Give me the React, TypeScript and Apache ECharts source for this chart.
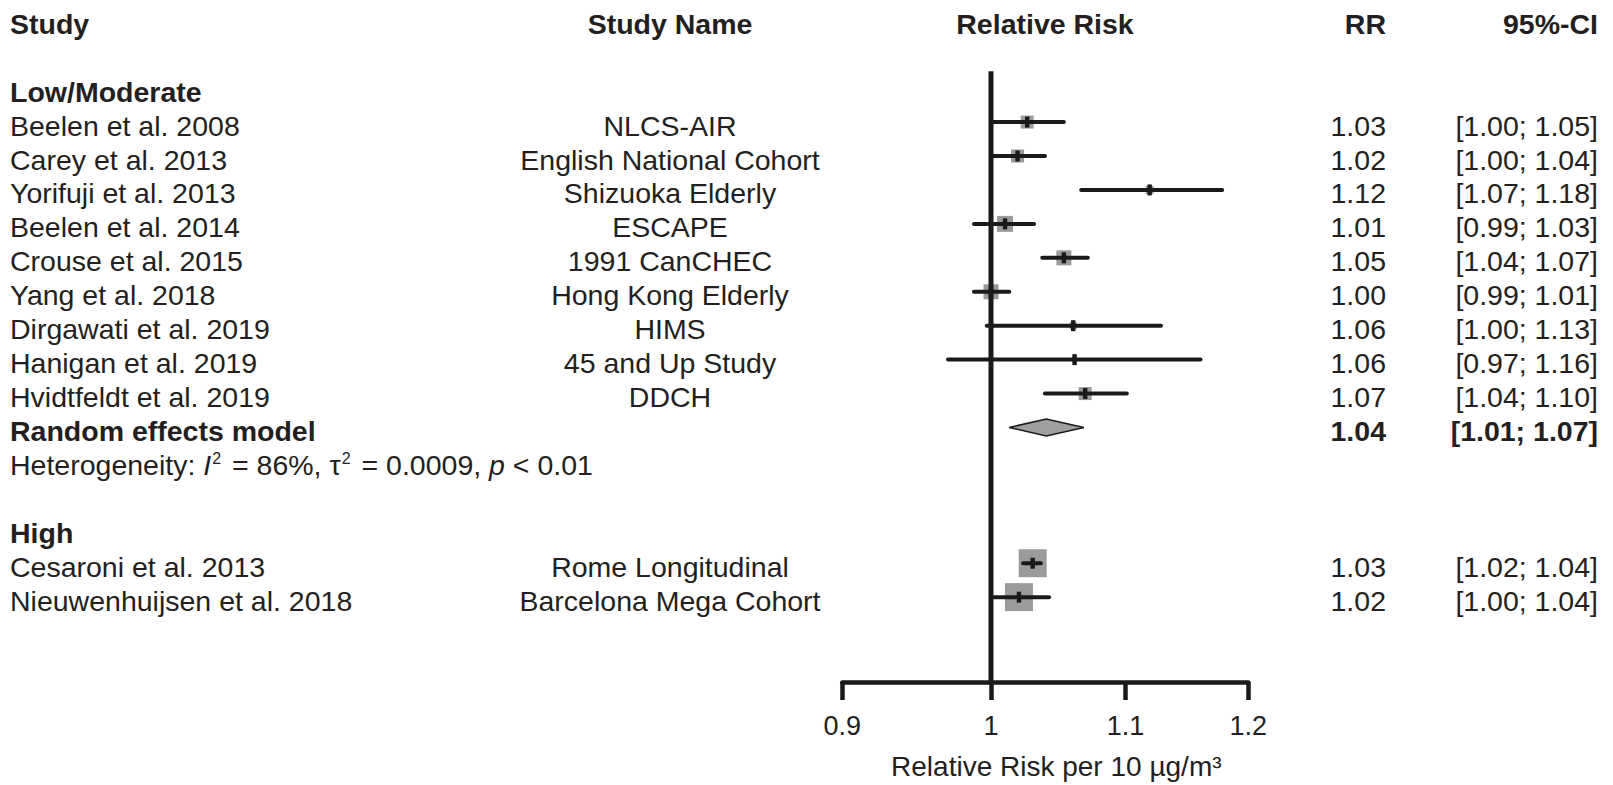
import React, { useEffect, useRef } from "react";
import * as echarts from "echarts";

// ---------- data ----------
const headers = ["Study", "Study Name", "Relative Risk", "RR", "95%-CI"];
const groupNames = ["Low/Moderate", "High"];
const studies = [
  "Beelen et al. 2008",
  "Carey et al. 2013",
  "Yorifuji et al. 2013",
  "Beelen et al. 2014",
  "Crouse et al. 2015",
  "Yang et al. 2018",
  "Dirgawati et al. 2019",
  "Hanigan et al. 2019",
  "Hvidtfeldt et al. 2019",
  "Cesaroni et al. 2013",
  "Nieuwenhuijsen et al. 2018",
];
const studyNames = [
  "NLCS-AIR",
  "English National Cohort",
  "Shizuoka Elderly",
  "ESCAPE",
  "1991 CanCHEC",
  "Hong Kong Elderly",
  "HIMS",
  "45 and Up Study",
  "DDCH",
  "Rome Longitudinal",
  "Barcelona Mega Cohort",
];
const exposureGroup = [0, 0, 0, 0, 0, 0, 0, 0, 0, 1, 1];
const rr = [1.026, 1.019, 1.119, 1.01, 1.053, 1.0, 1.06, 1.061, 1.069, 1.03, 1.02];
const ciLower = [1.001, 1.001, 1.066, 0.988, 1.037, 0.988, 0.997, 0.97, 1.039, 1.023, 1.002];
const ciUpper = [1.053, 1.039, 1.178, 1.031, 1.071, 1.013, 1.128, 1.16, 1.101, 1.036, 1.042];
const weights = [10.8, 10.8, 4.1, 16.3, 14.3, 14.3, 3.1, 1.6, 10.8, 50, 50];

const pooledGroups = [0];
const pooledLabel = "Random effects model";
const pooledRR = [1.04];
const pooledLower = [1.013];
const pooledUpper = [1.068];
const heterogeneityI2 = [86];
const heterogeneityTau2 = ["0.0009"];
const heterogeneityP = ["< 0.01"];

const xTicks = [0.9, 1, 1.1, 1.2];
const nullEffect = 1;
const xAxisTitle = "Relative Risk per 10 µg/m³";

// ---------- layout / style ----------
const FONT = "'Liberation Sans', Arial, Helvetica, sans-serif";
const FS = 28.5;
const TEXT = "#231f20";
const INK = "#1a1a1a";
const ROW_MIN = -3.5;
const ROW_MAX = 16.5;
const GRID_TOP = 3.3;
const GRID_BOTTOM = 103;
const TEXT_DY = 3.5;
const colX = [10, 670, 1045, 1386, 1598];
const colAlign = ["left", "center", "center", "right", "right"];
const SQUARE_SCALE = 3.96;
const REF_TOP_ROW = -1.5;
const DIAMOND_HALF = 8.5;

type TextItem = { col: number; row: number; text: string; bold?: boolean; rich?: boolean };

function fmt(v: number) {
  return v.toFixed(2);
}

function buildLayout() {
  const texts: TextItem[] = [];
  const forest: number[][] = [];
  const diamonds: number[][] = [];
  headers.forEach((h, c) => texts.push({ col: c, row: -3, text: h, bold: true }));
  let row = -1;
  groupNames.forEach((g, gi) => {
    texts.push({ col: 0, row, text: g, bold: true });
    row++;
    studies.forEach((s, i) => {
      if (exposureGroup[i] !== gi) return;
      texts.push({ col: 0, row, text: s });
      texts.push({ col: 1, row, text: studyNames[i] });
      texts.push({ col: 3, row, text: fmt(rr[i]) });
      texts.push({ col: 4, row, text: `[${fmt(ciLower[i])}; ${fmt(ciUpper[i])}]` });
      forest.push([Math.log(rr[i]), Math.log(ciLower[i]), Math.log(ciUpper[i]), row, weights[i]]);
      row++;
    });
    const pi = pooledGroups.indexOf(gi);
    if (pi >= 0) {
      texts.push({ col: 0, row, text: pooledLabel, bold: true });
      texts.push({ col: 3, row, text: fmt(pooledRR[pi]), bold: true });
      texts.push({
        col: 4,
        row,
        text: `[${fmt(pooledLower[pi])}; ${fmt(pooledUpper[pi])}]`,
        bold: true,
      });
      diamonds.push([
        Math.log(pooledRR[pi]),
        Math.log(pooledLower[pi]),
        Math.log(pooledUpper[pi]),
        row,
      ]);
      row++;
      texts.push({
        col: 0,
        row,
        text: `Heterogeneity: {it|I}{sup|2} = ${heterogeneityI2[pi]}%, τ{sup|2} = ${heterogeneityTau2[pi]}, {it|p} ${heterogeneityP[pi]}`,
        rich: true,
      });
      row++;
    }
    row++;
  });
  return { texts, forest, diamonds };
}

export default function App() {
  const ref = useRef<HTMLDivElement>(null);
  useEffect(() => {
    document.body.style.margin = "0";
    if (!ref.current) return;
    const chart = echarts.init(ref.current, undefined, { renderer: "svg" });
    const { texts, forest, diamonds } = buildLayout();

    const baseFont = { fontFamily: FONT, fontSize: FS, fill: TEXT };

    const option: any = {
      animation: false,
      grid: [
        { left: 842.3, width: 406, top: GRID_TOP, bottom: GRID_BOTTOM },
        { left: 0, right: 0, top: GRID_TOP, bottom: GRID_BOTTOM },
      ],
      xAxis: [
        {
          gridIndex: 0,
          type: "value",
          min: Math.log(xTicks[0]),
          max: Math.log(xTicks[xTicks.length - 1]),
          axisLine: { show: true, onZero: false, lineStyle: { color: INK, width: 4.5 } },
          axisTick: {
            show: true,
            customValues: xTicks.map((v) => Math.log(v)),
            length: 18,
            lineStyle: { color: INK, width: 4.5 },
          },
          axisLabel: {
            customValues: xTicks.map((v) => Math.log(v)),
            formatter: (v: number) => String(Math.round(Math.exp(v) * 100) / 100),
            fontSize: 27,
            fontFamily: FONT,
            color: TEXT,
            margin: 30,
          },
          splitLine: { show: false },
          name: xAxisTitle,
          nameLocation: "middle",
          nameGap: 70,
          nameTextStyle: {
            fontSize: 28,
            fontFamily: FONT,
            color: TEXT,
            padding: [0, 0, 0, 22],
          },
        },
        { gridIndex: 1, type: "value", min: 0, max: 1613, show: false },
      ],
      yAxis: [
        { gridIndex: 0, type: "value", min: ROW_MIN, max: ROW_MAX, inverse: true, show: false },
        { gridIndex: 1, type: "value", min: ROW_MIN, max: ROW_MAX, inverse: true, show: false },
      ],
      series: [
        {
          type: "line",
          xAxisIndex: 0,
          yAxisIndex: 0,
          data: [
            [Math.log(nullEffect), REF_TOP_ROW],
            [Math.log(nullEffect), ROW_MAX],
          ],
          symbol: "none",
          lineStyle: { color: INK, width: 5 },
          silent: true,
        },
        {
          type: "custom",
          xAxisIndex: 0,
          yAxisIndex: 0,
          data: forest,
          encode: { x: [0, 1, 2], y: 3 },
          silent: true,
          renderItem: (_p: any, api: any) => {
            const y = api.value(3);
            const est = api.coord([api.value(0), y]);
            const lo = api.coord([api.value(1), y]);
            const hi = api.coord([api.value(2), y]);
            const s = SQUARE_SCALE * Math.sqrt(api.value(4));
            return {
              type: "group",
              children: [
                {
                  type: "rect",
                  shape: { x: est[0] - s / 2, y: est[1] - s / 2, width: s, height: s },
                  style: { fill: "#9b9b9b" },
                },
                {
                  type: "line",
                  shape: { x1: lo[0], y1: lo[1], x2: hi[0], y2: hi[1] },
                  style: { stroke: INK, lineWidth: 4, lineCap: "round" },
                },
                {
                  type: "rect",
                  shape: { x: est[0] - 2.2, y: est[1] - 5.5, width: 4.4, height: 11 },
                  style: { fill: INK },
                },
              ],
            };
          },
        },
        {
          type: "custom",
          xAxisIndex: 0,
          yAxisIndex: 0,
          data: diamonds,
          encode: { x: [0, 1, 2], y: 3 },
          silent: true,
          renderItem: (_p: any, api: any) => {
            const y = api.value(3);
            const est = api.coord([api.value(0), y]);
            const lo = api.coord([api.value(1), y]);
            const hi = api.coord([api.value(2), y]);
            return {
              type: "polygon",
              shape: {
                points: [
                  [lo[0], lo[1]],
                  [est[0], est[1] - DIAMOND_HALF],
                  [hi[0], hi[1]],
                  [est[0], est[1] + DIAMOND_HALF],
                ],
              },
              style: { fill: "#9f9f9f", stroke: INK, lineWidth: 1.6 },
            };
          },
        },
        {
          type: "custom",
          xAxisIndex: 1,
          yAxisIndex: 1,
          data: texts.map((t) => [colX[t.col], t.row]),
          encode: { x: 0, y: 1 },
          silent: true,
          renderItem: (p: any, api: any) => {
            const t = texts[p.dataIndex];
            const pt = api.coord([api.value(0), api.value(1)]);
            return {
              type: "text",
              x: pt[0],
              y: pt[1] + TEXT_DY,
              style: {
                text: t.text,
                ...baseFont,
                fontWeight: t.bold ? "bold" : "normal",
                align: colAlign[t.col],
                verticalAlign: "middle",
                rich: t.rich
                  ? {
                      it: { fontFamily: FONT, fontSize: FS, fill: TEXT, fontStyle: "italic" },
                      sup: {
                        fontFamily: FONT,
                        fontSize: 16,
                        fill: TEXT,
                        verticalAlign: "top",
                        padding: [0, 3, 10, 1],
                      },
                    }
                  : undefined,
              },
            };
          },
        },
      ],
    };
    chart.setOption(option);
    return () => chart.dispose();
  }, []);
  return <div ref={ref} style={{ width: 1613, height: 785 }} />;
}
